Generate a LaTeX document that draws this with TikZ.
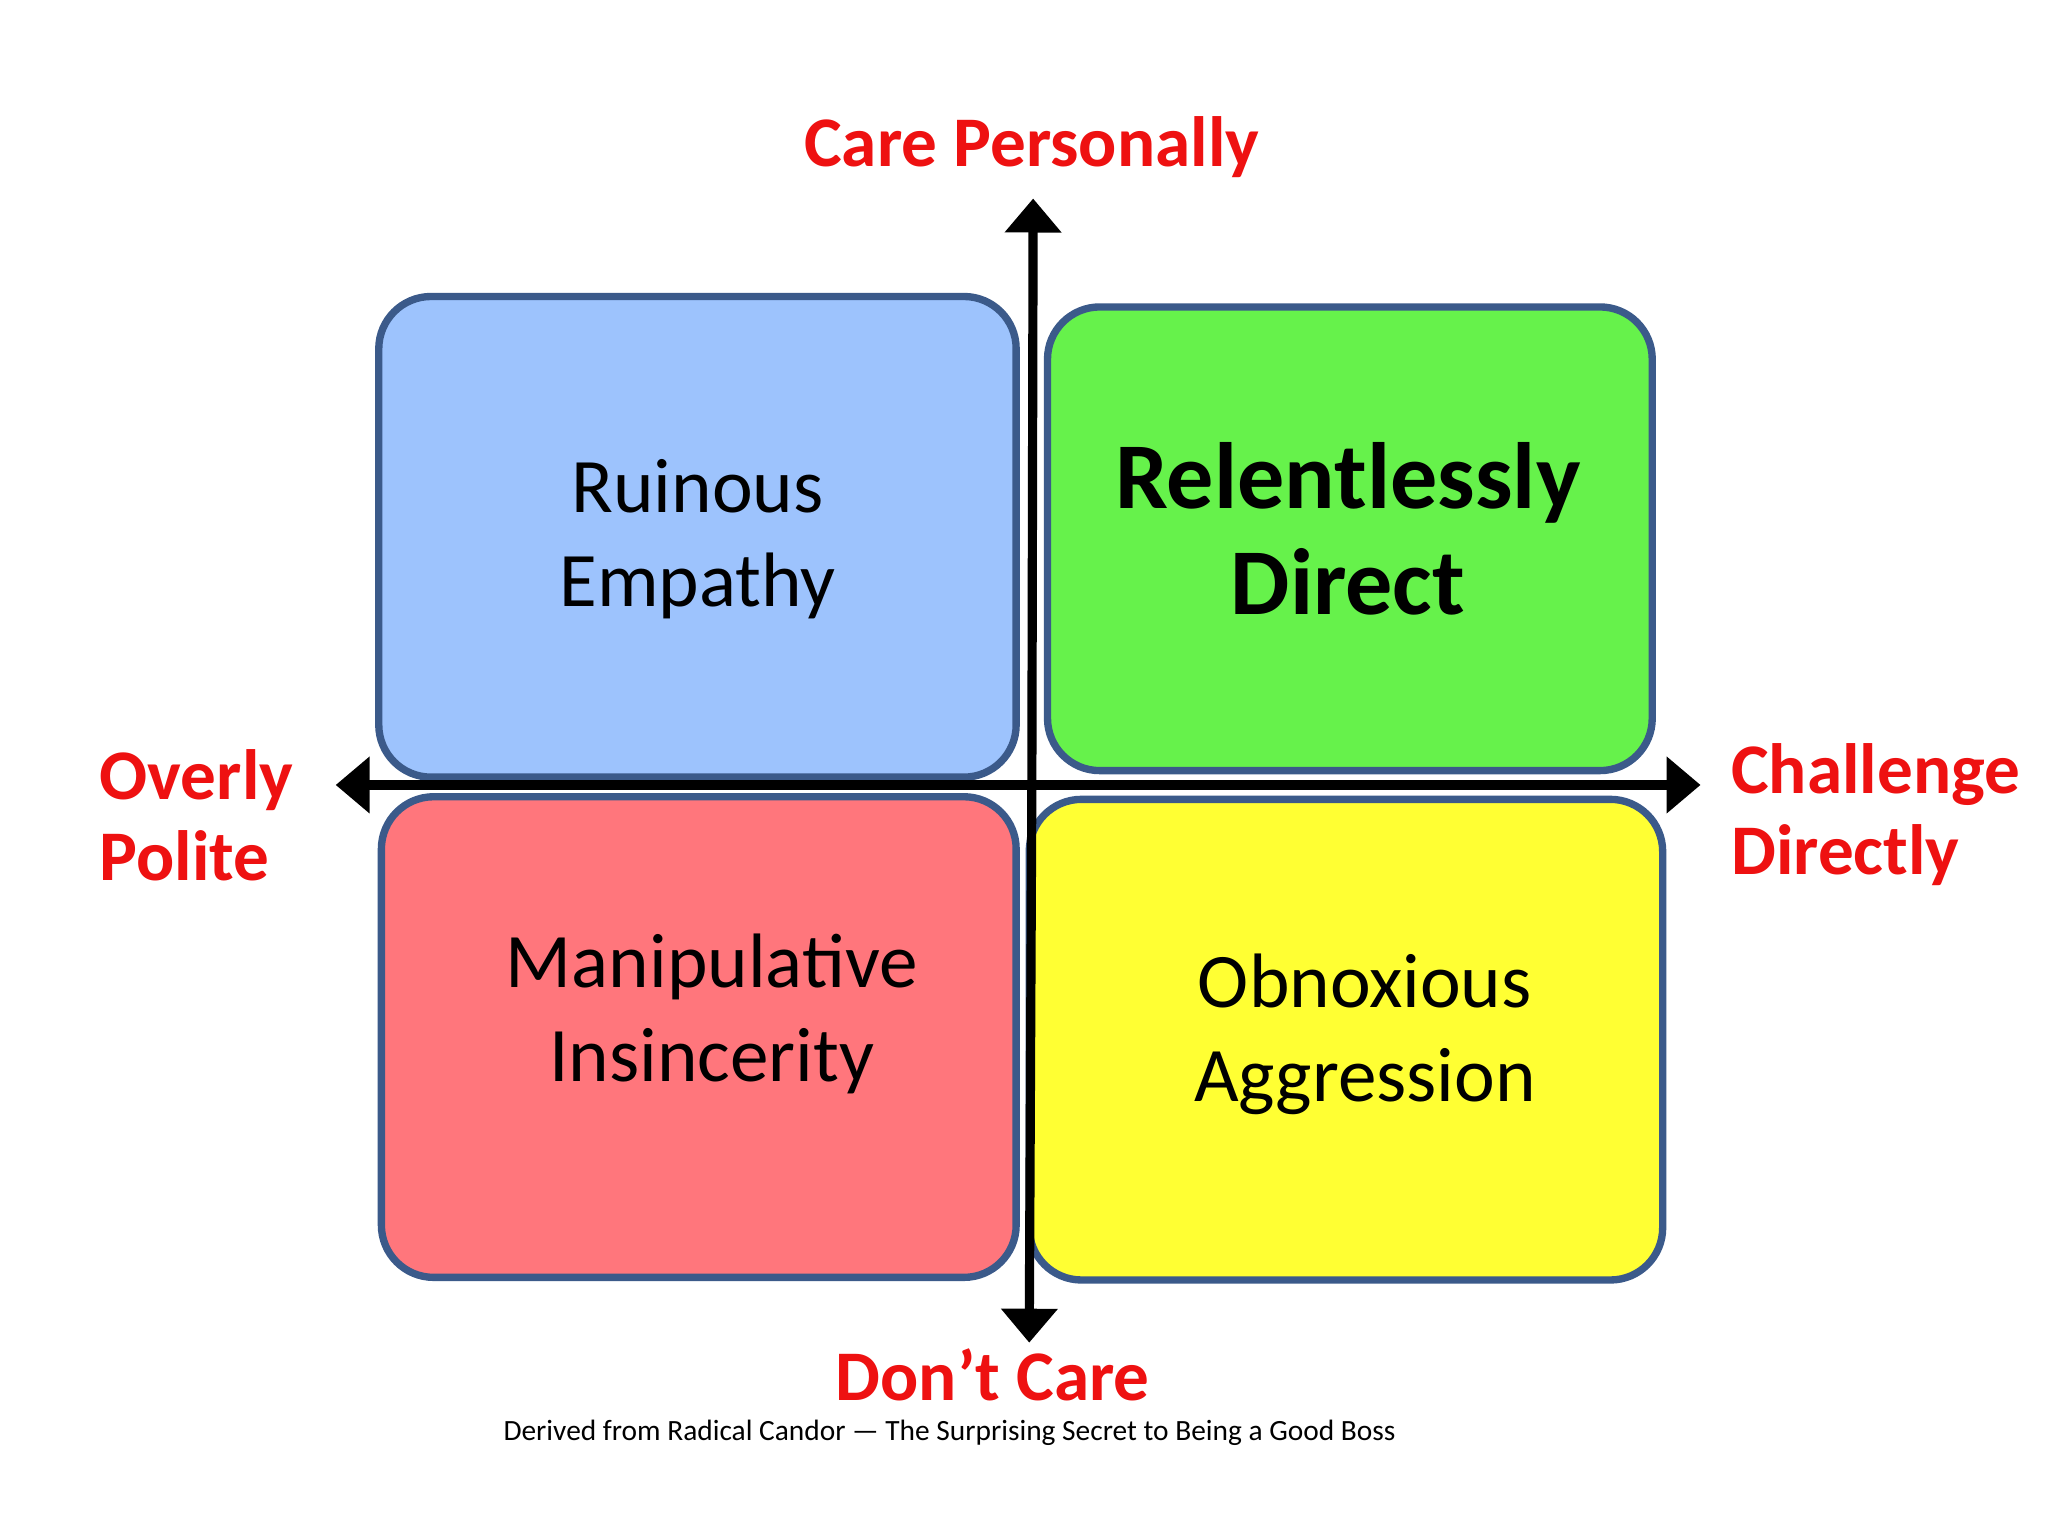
\documentclass[tikz,border=0pt]{standalone}
\usepackage{fontspec}
\setmainfont{Carlito}
\usetikzlibrary{arrows.meta,positioning}
\definecolor{axisred}{HTML}{EE1111}
\definecolor{boxline}{HTML}{3B5A8A}
\definecolor{ruinous}{HTML}{9DC3FD}
\definecolor{direct}{HTML}{66F24B}
\definecolor{manip}{HTML}{FF767C}
\definecolor{obnox}{HTML}{FFFF33}
\tikzset{
  quad/.style={draw=boxline, line width=1.6pt, rounded corners=0.4cm, align=center},
  axis/.style={line width=2pt, -{Triangle[width=0.42cm,length=0.26cm]}},
  axislabel/.style={text=axisred, font=\fontsize{15.5}{17.6}\selectfont\bfseries, align=left},
  quadtext/.style={font=\fontsize{16.8}{20.5}\selectfont, align=center}
}
\begin{document}
\begin{tikzpicture}[x=0.01cm,y=-0.01cm]
    \useasboundingbox[fill=white] (0,0) rectangle (1568,1176);

    % Quadrants
    \filldraw[quad, fill=ruinous] (290,227) rectangle (778,595);
    \filldraw[quad, fill=direct] (802,235) rectangle (1265,590);
    \filldraw[quad, fill=manip] (292,610) rectangle (778,978);
    \filldraw[quad, fill=obnox] (788,612) rectangle (1273,980);

    % Quadrant texts
    \node[quadtext] (ruin) at (534,413) {Ruinous\\Empathy};
    \node[quadtext, font=\fontsize{20.5}{23}\selectfont\bfseries] (rel) at (1032,405) {Relentlessly\\Direct};
    \node[quadtext] (man) at (545,776) {Manipulative\\Insincerity};
    \node[quadtext] (obn) at (1045,792) {Obnoxious\\Aggression};

    % Axes
    \coordinate (top) at (791,152);
    \coordinate (bottom) at (788,1028);
    \coordinate (left) at (257,601);
    \coordinate (right) at (1302,601);
    \coordinate (mid) at (790,601);
    \draw[axis] (mid) -- (top);
    \draw[axis] (mid) -- (bottom);
    \draw[axis] (mid) -- (left);
    \draw[axis] (mid) -- (right);

    % Axis labels
    \node[axislabel] (care) at (790,113) {Care Personally};
    \node[axislabel] (dont) at (760,1053) {Don’t Care};
    \node[axislabel, anchor=west] (polite) at (64,624) {Overly\\Polite};
    \node[axislabel, anchor=west] (chal) at (1313,624) {Challenge\\Directly};

    % Caption
    \node[font=\fontsize{6.4}{8}\selectfont] (src) at (727,1097) {Derived from Radical Candor — The Surprising Secret to Being a Good Boss};
\end{tikzpicture}
\end{document}
